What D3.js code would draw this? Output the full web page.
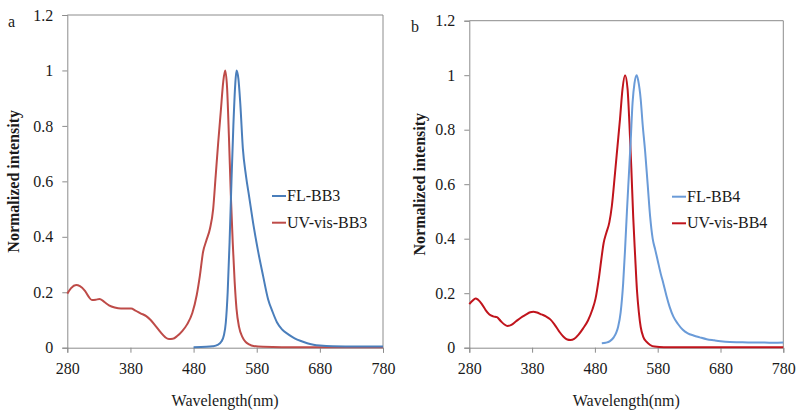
<!DOCTYPE html>
<html>
<head>
<meta charset="utf-8">
<script src="https://cdn.jsdelivr.net/npm/d3@7"></script>
<style>
  html, body { margin: 0; padding: 0; background: #fff; }
  svg { display: block; }
  text { font-family: "Liberation Serif", "Times New Roman", serif; fill: #1a1a1a; }
</style>
</head>
<body>
<svg id="chart" width="800" height="417"></svg>
<script>
// ---------- data ----------
const xTicks = [280, 380, 480, 580, 680, 780];
const yTicks = [0, 0.2, 0.4, 0.6, 0.8, 1, 1.2];
const xTitle = "Wavelength(nm)";
const yTitle = "Normalized intensity";
const panelLabels = ["a", "b"];
const seriesNamesA = ["FL-BB3", "UV-vis-BB3"];
const seriesNamesB = ["FL-BB4", "UV-vis-BB4"];

// panel a: fluorescence BB3 [nm, intensity]
const flBB3 = [
  [480,0.002],[500,0.003],[510,0.005],[518,0.010],[524,0.022],[528,0.045],[531,0.09],
  [534,0.20],[537,0.38],[540,0.60],[543,0.80],[546,0.95],[548,1.0],[551,0.97],
  [554,0.88],[558,0.72],[563,0.62],[568,0.545],[575,0.44],[582,0.35],[590,0.26],
  [598,0.175],[605,0.13],[612,0.092],[620,0.066],[630,0.048],[640,0.034],[650,0.024],
  [660,0.016],[670,0.011],[680,0.008],[700,0.005],[740,0.004],[780,0.004]
];
// panel a: absorption BB3
const uvBB3 = [
  [280,0.195],[286,0.215],[294,0.226],[300,0.222],[308,0.205],[314,0.183],[319,0.172],
  [325,0.173],[331,0.176],[338,0.166],[346,0.153],[355,0.145],[365,0.141],[375,0.141],
  [381,0.141],[388,0.134],[396,0.124],[405,0.114],[412,0.100],[420,0.078],[428,0.055],
  [435,0.038],[441,0.031],[447,0.032],[454,0.042],[462,0.060],[470,0.085],[478,0.125],
  [485,0.19],[490,0.26],[495,0.345],[500,0.385],[506,0.43],[511,0.50],[515,0.62],
  [519,0.74],[523,0.85],[527,0.96],[530,1.0],[533,0.94],[536,0.76],[539,0.55],
  [542,0.38],[545,0.24],[548,0.14],[552,0.075],[557,0.04],[562,0.022],[568,0.012],
  [575,0.006],[590,0.003],[620,0.002],[700,0.002],[780,0.002]
];
// panel b: fluorescence BB4
const flBB4 = [
  [491,0.016],[497,0.018],[504,0.024],[510,0.038],[514,0.055],[517,0.077],[521,0.13],
  [525,0.236],[528,0.36],[531,0.50],[534,0.63],[537,0.76],[540,0.90],[543,0.97],
  [546.5,1.0],[549,0.98],[553,0.91],[556,0.82],[560,0.72],[564,0.60],[568,0.48],
  [572,0.40],[576,0.36],[580,0.32],[585,0.27],[589,0.236],[594,0.19],[599,0.15],
  [605,0.114],[612,0.088],[620,0.066],[628,0.053],[637,0.045],[647,0.038],[658,0.031],
  [670,0.027],[680,0.024],[695,0.021],[710,0.020],[730,0.019],[750,0.019],[765,0.018],
  [780,0.019]
];
// panel b: absorption BB4
const uvBB4 = [
  [280,0.160],[285,0.172],[290,0.181],[294,0.176],[300,0.160],[306,0.138],[312,0.122],
  [318,0.115],[324,0.112],[330,0.098],[336,0.085],[341,0.080],[347,0.084],[354,0.096],
  [362,0.110],[370,0.121],[377,0.130],[382,0.132],[388,0.129],[395,0.122],[402,0.115],
  [409,0.104],[416,0.084],[423,0.060],[430,0.040],[436,0.030],[441,0.028],[447,0.032],
  [454,0.048],[461,0.070],[469,0.10],[476,0.14],[481,0.18],[486,0.25],[490,0.32],
  [494,0.385],[498,0.42],[503,0.46],[507,0.52],[512,0.64],[516,0.74],[520,0.84],
  [524,0.95],[528,1.0],[532,0.95],[535,0.82],[538,0.66],[541,0.48],[544,0.34],
  [547,0.21],[550,0.13],[553,0.075],[557,0.04],[562,0.022],[568,0.010],[575,0.004],
  [590,0.002],[650,0.002],[780,0.002]
];

// ---------- layout ----------
const panels = [
  { left: 67.3, right: 383, top: 15, bottom: 347.7, label: panelLabels[0], labelX: 8, labelY: 27,
    yTitleX: 13, names: seriesNamesA, fl: flBB3, uv: uvBB3,
    flColor: "#4a7ebb", uvColor: "#be4b48",
    legX: 272, legY: [196, 222.7] },
  { left: 469.3, right: 783.3, top: 20.7, bottom: 347.7, label: panelLabels[1], labelX: 411, labelY: 32,
    yTitleX: 419, names: seriesNamesB, fl: flBB4, uv: uvBB4,
    flColor: "#6a9bd8", uvColor: "#c0141c",
    legX: 672, legY: [196.7, 223.3] }
];

const svg = d3.select("#chart");
const axisColor = "#8c8c8c";

panels.forEach(p => {
  const x = d3.scaleLinear().domain([280, 780]).range([p.left, p.right]);
  const y = d3.scaleLinear().domain([0, 1.2]).range([p.bottom, p.top]);
  const g = svg.append("g");

  // frame (top & right)
  g.append("path")
    .attr("d", `M${p.left},${p.top}H${p.right}V${p.bottom}`)
    .attr("fill", "none").attr("stroke", axisColor).attr("stroke-width", 1);

  // x axis
  const xa = g.append("g").attr("transform", `translate(0,${p.bottom})`)
    .call(d3.axisBottom(x).tickValues(xTicks).tickSize(5).tickPadding(10).tickFormat(d3.format("d")));
  // y axis
  const ya = g.append("g").attr("transform", `translate(${p.left},0)`)
    .call(d3.axisLeft(y).tickValues(yTicks).tickSize(5).tickPadding(9).tickFormat(d => String(+d.toFixed(1))));
  [xa, ya].forEach(a => {
    a.select(".domain").attr("stroke", axisColor);
    a.selectAll(".tick line").attr("stroke", axisColor);
    a.selectAll(".tick text").attr("font-size", 16).attr("fill", "#1a1a1a")
      .attr("font-family", "'Liberation Serif', serif");
  });

  // lines
  const line = d3.line().x(d => x(d[0])).y(d => y(d[1])).curve(d3.curveMonotoneX);
  g.append("path").datum(p.uv).attr("d", line)
    .attr("fill", "none").attr("stroke", p.uvColor).attr("stroke-width", 2);
  g.append("path").datum(p.fl).attr("d", line)
    .attr("fill", "none").attr("stroke", p.flColor).attr("stroke-width", 2);

  // titles
  g.append("text").attr("x", (p.left + p.right) / 2).attr("y", 406)
    .attr("text-anchor", "middle").attr("font-size", 16).text(xTitle);
  g.append("text")
    .attr("transform", `translate(${p.yTitleX},${(p.top + p.bottom) / 2}) rotate(-90)`)
    .attr("text-anchor", "middle").attr("dy", "0.35em")
    .attr("font-size", 16).attr("font-weight", "bold").text(yTitle);
  g.append("text").attr("x", p.labelX).attr("y", p.labelY).attr("font-size", 16).text(p.label);

  // legend
  const legColors = [p.flColor, p.uvColor];
  p.names.forEach((n, i) => {
    g.append("line").attr("x1", p.legX).attr("x2", p.legX + 14)
      .attr("y1", p.legY[i]).attr("y2", p.legY[i])
      .attr("stroke", legColors[i]).attr("stroke-width", 2);
    g.append("text").attr("x", p.legX + 15).attr("y", p.legY[i]).attr("dy", "0.32em")
      .attr("font-size", 16).text(n);
  });
});
</script>
</body>
</html>
